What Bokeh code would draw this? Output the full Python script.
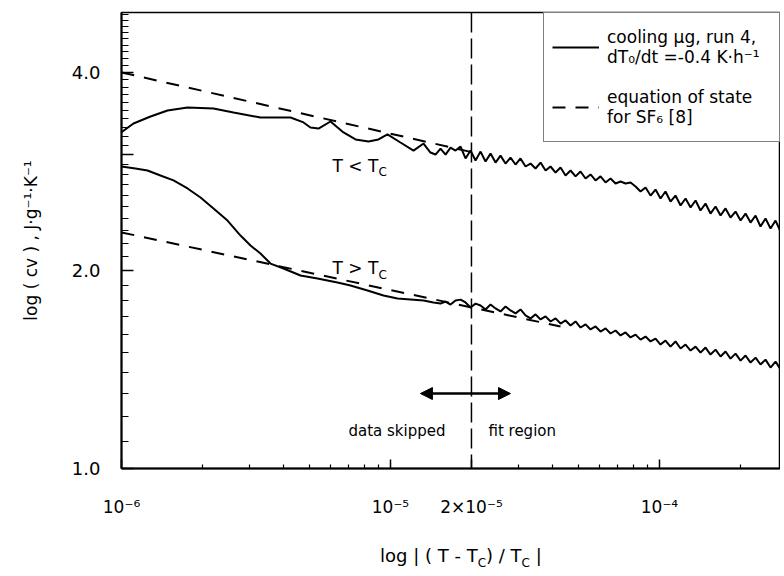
from bokeh.plotting import figure
from bokeh.models import (Range1d, FixedTicker, CustomJSTickFormatter, Span, Arrow,
                          NormalHead, Label, Legend, LegendItem, Div)
from bokeh.layouts import column
from bokeh.embed import file_html
from bokeh.resources import INLINE

FONT = "DejaVu Sans"

# ---------------- data ----------------
# reduced temperature |(T-Tc)/Tc| and specific heat cv (J g^-1 K^-1)
upper_smooth_x = [1.000e-6, 1.108e-6, 1.282e-6, 1.483e-6, 1.760e-6, 2.198e-6, 2.609e-6,
                  3.287e-6, 4.249e-6, 4.750e-6, 5.041e-6, 5.400e-6, 5.984e-6, 6.689e-6,
                  7.413e-6, 8.284e-6, 9.023e-6, 9.746e-6, 1.089e-5, 1.218e-5, 1.327e-5,
                  1.408e-5, 1.470e-5]
upper_smooth_y = [3.245, 3.346, 3.428, 3.501, 3.538, 3.526, 3.477,
                  3.416, 3.416, 3.358, 3.299, 3.287, 3.369, 3.242,
                  3.164, 3.141, 3.164, 3.220, 3.130, 3.043, 3.119,
                  3.022, 3.001]

lower_smooth_x = [1.000e-6, 1.127e-6, 1.249e-6, 1.396e-6, 1.561e-6, 1.760e-6, 1.967e-6,
                  2.198e-6, 2.478e-6, 2.770e-6, 3.017e-6, 3.287e-6, 3.580e-6, 4.002e-6,
                  4.629e-6, 5.354e-6, 6.353e-6, 7.101e-6, 8.214e-6, 9.419e-6, 1.062e-5,
                  1.187e-5, 1.327e-5, 1.445e-5]
lower_smooth_y = [2.878, 2.858, 2.838, 2.789, 2.741, 2.665, 2.582,
                  2.485, 2.382, 2.260, 2.183, 2.122, 2.049, 2.014,
                  1.965, 1.945, 1.918, 1.898, 1.865, 1.832, 1.813,
                  1.807, 1.800, 1.788]

noisy_x = [1.535e-5, 1.602e-5, 1.672e-5, 1.745e-5, 1.822e-5, 1.901e-5, 1.984e-5, 2.071e-5,
           2.162e-5, 2.256e-5, 2.355e-5, 2.458e-5, 2.565e-5, 2.677e-5, 2.794e-5, 2.917e-5,
           3.044e-5, 3.177e-5, 3.316e-5, 3.461e-5, 3.613e-5, 3.771e-5, 3.936e-5, 4.108e-5,
           4.287e-5, 4.475e-5, 4.671e-5, 4.875e-5, 5.088e-5, 5.311e-5, 5.543e-5, 5.785e-5,
           6.038e-5, 6.302e-5, 6.578e-5, 6.866e-5, 7.166e-5, 7.479e-5, 7.806e-5, 8.148e-5,
           8.504e-5, 8.876e-5, 9.264e-5, 9.669e-5, 1.009e-4, 1.053e-4, 1.099e-4, 1.147e-4,
           1.198e-4, 1.250e-4, 1.305e-4, 1.362e-4, 1.421e-4, 1.483e-4, 1.548e-4, 1.616e-4,
           1.687e-4, 1.760e-4, 1.837e-4, 1.918e-4, 2.002e-4, 2.089e-4, 2.181e-4, 2.276e-4,
           2.375e-4, 2.479e-4, 2.588e-4, 2.701e-4, 2.819e-4, 2.942e-4]
upper_noisy_y = [3.064, 3.001, 3.075, 3.043, 3.086, 2.960, 3.043, 2.939, 3.032, 2.929,
                 3.011, 2.918, 2.990, 2.908, 2.969, 2.898, 2.960, 2.878, 2.908, 2.858,
                 2.918, 2.838, 2.878, 2.818, 2.868, 2.789, 2.838, 2.780, 2.828, 2.760,
                 2.799, 2.741, 2.780, 2.722, 2.760, 2.712, 2.731, 2.712, 2.722, 2.684,
                 2.637, 2.674, 2.600, 2.655, 2.573, 2.637, 2.546, 2.600, 2.511, 2.573,
                 2.493, 2.555, 2.467, 2.528, 2.441, 2.502, 2.424, 2.485, 2.407, 2.458,
                 2.382, 2.441, 2.365, 2.424, 2.333, 2.399, 2.316, 2.382, 2.292, 2.349]
lower_noisy_y = [1.781, 1.794, 1.775, 1.800, 1.806, 1.788, 1.757, 1.781, 1.769, 1.745,
                 1.775, 1.751, 1.733, 1.763, 1.739, 1.721, 1.745, 1.709, 1.691, 1.715,
                 1.685, 1.703, 1.673, 1.691, 1.661, 1.679, 1.650, 1.673, 1.638, 1.656,
                 1.627, 1.644, 1.615, 1.633, 1.604, 1.621, 1.593, 1.610, 1.582, 1.598,
                 1.570, 1.587, 1.560, 1.576, 1.543, 1.565, 1.532, 1.560, 1.522, 1.543,
                 1.511, 1.532, 1.500, 1.527, 1.490, 1.516, 1.480, 1.506, 1.469, 1.495,
                 1.459, 1.485, 1.449, 1.474, 1.439, 1.464, 1.424, 1.454, 1.414, 1.444]

# equation of state (SF6) power laws
eos_below_x = [1.0e-6, 2.0e-5]      # T < Tc branch
eos_below_y = [4.000, 3.027]
eos_above_x = [1.0e-6, 4.285e-5]    # T > Tc branch
eos_above_y = [2.285, 1.644]

fit_boundary = 2.0e-5
arrow_x = [1.292e-5, 2.793e-5]
arrow_y = 1.30

x_tick_values = [1e-6, 1e-5, 2e-5, 1e-4]
x_tick_labels = ["10\u207b\u2076", "10\u207b\u2075", "2\u00d710\u207b\u2075", "10\u207b\u2074"]
x_minor = [2e-6, 3e-6, 4e-6, 5e-6, 6e-6, 7e-6, 8e-6, 9e-6,
           3e-5, 4e-5, 5e-5, 6e-5, 7e-5, 8e-5, 9e-5, 2e-4]
y_tick_values = [1.0, 2.0, 3.0, 4.0]
y_tick_labels = ["1.0", "2.0", "", "4.0"]
y_minor = [1.1, 1.2, 1.3, 1.4, 1.5, 1.6, 1.7, 1.8, 1.9,
           2.1, 2.2, 2.3, 2.4, 2.5, 2.6, 2.7, 2.8, 2.9,
           3.1, 3.2, 3.3, 3.4, 3.5, 3.6, 3.7, 3.8, 3.9,
           4.1, 4.2, 4.3, 4.4, 4.5, 4.6, 4.7, 4.8, 4.9]

upper_x = upper_smooth_x + noisy_x
upper_y = upper_smooth_y + upper_noisy_y
lower_x = lower_smooth_x + noisy_x
lower_y = lower_smooth_y + lower_noisy_y

# ---------------- figure ----------------
p = figure(width=780, height=534, x_axis_type="log", y_axis_type="log",
           x_range=Range1d(1e-6, 2.818e-4), y_range=Range1d(1.0, 4.934),
           output_backend="svg", toolbar_location=None,
           min_border_left=121, min_border_right=0, min_border_top=12, min_border_bottom=66)
p.xgrid.visible = False
p.ygrid.visible = False
p.outline_line_color = "black"
p.outline_line_width = 1.5
p.background_fill_color = "white"
p.border_fill_color = "white"

fmt_code = """
for (let i = 0; i < tvals.length; i++) {
  if (Math.abs(tick / tvals[i] - 1) < 1e-6) { return tlabs[i]; }
}
return "";
"""
p.xaxis.ticker = FixedTicker(ticks=x_tick_values, minor_ticks=x_minor)
p.xaxis.formatter = CustomJSTickFormatter(args=dict(tvals=x_tick_values, tlabs=x_tick_labels), code=fmt_code)
p.yaxis.ticker = FixedTicker(ticks=y_tick_values, minor_ticks=y_minor)
p.yaxis.formatter = CustomJSTickFormatter(args=dict(tvals=y_tick_values, tlabs=y_tick_labels), code=fmt_code)

for ax in (p.xaxis, p.yaxis):
    ax.axis_line_width = 2
    ax.axis_line_color = "black"
    ax.major_tick_out = 0
    ax.minor_tick_out = 0
    ax.major_tick_line_width = 1.5
    ax.minor_tick_line_width = 1.2
    ax.major_tick_line_color = "black"
    ax.minor_tick_line_color = "black"
    ax.major_label_text_font = FONT
    ax.major_label_text_color = "black"
    ax.axis_label_text_font = FONT
    ax.axis_label_text_font_style = "normal"
    ax.axis_label_text_color = "black"

p.xaxis.major_tick_in = 9
p.xaxis.minor_tick_in = 4
p.xaxis.major_label_standoff = 28
p.xaxis.major_label_text_font_size = "17px"

p.yaxis.major_tick_in = 12
p.yaxis.minor_tick_in = 7
p.yaxis.major_label_standoff = 21
p.yaxis.major_label_text_font_size = "18px"
p.yaxis.axis_label = "log ( cv ) , J\u00b7g\u207b\u00b9\u00b7K\u207b\u00b9"
p.yaxis.axis_label_text_font_size = "17px"
p.yaxis.axis_label_standoff = 28

# ---------------- marks ----------------
r_eos = p.line(eos_below_x, eos_below_y, line_color="black", line_width=2, line_dash="13 10")
p.line(eos_above_x, eos_above_y, line_color="black", line_width=2, line_dash="13 10")
r_data = p.line(upper_x, upper_y, line_color="black", line_width=2)
p.line(lower_x, lower_y, line_color="black", line_width=2)

p.add_layout(Span(location=fit_boundary, dimension="height", line_color="black",
                  line_width=1.5, line_dash="20 6"))
p.add_layout(Arrow(start=NormalHead(size=12, fill_color="black", line_color="black"),
                   end=NormalHead(size=12, fill_color="black", line_color="black"),
                   x_start=arrow_x[0], y_start=arrow_y, x_end=arrow_x[1], y_end=arrow_y,
                   line_width=2.5, line_color="black"))

def txt(x, y, s, size, align="left", baseline="middle"):
    p.add_layout(Label(x=x, y=y, text=s, text_font=FONT, text_font_size=size,
                       text_align=align, text_baseline=baseline, text_color="black"))

txt(1.601e-5, 1.142, "data skipped", "15px", "right")
txt(2.313e-5, 1.142, "fit region", "15px", "left")
txt(6.086e-6, 2.888, "T < T", "17px")
txt(9.024e-6, 2.828, "C", "12px")
txt(6.086e-6, 2.014, "T > T", "17px")
txt(9.024e-6, 1.972, "C", "12px")

legend = Legend(items=[
    LegendItem(label="cooling \u00b5g, run 4,\ndT\u2080/dt =-0.4 K\u00b7h\u207b\u00b9", renderers=[r_data]),
    LegendItem(label="equation of state\nfor SF\u2086 [8]", renderers=[r_eos]),
], location="top_right")
legend.margin = 0
legend.padding = 8
legend.spacing = 8
legend.glyph_width = 47
legend.glyph_height = 20
legend.label_standoff = 8
legend.label_width = 164
legend.label_height = 52
legend.label_text_font = FONT
legend.label_text_font_size = "17px"
legend.label_text_line_height = 1.6
legend.label_text_color = "black"
legend.border_line_color = "black"
legend.border_line_width = 1.5
legend.background_fill_color = "white"
legend.background_fill_alpha = 1.0
p.add_layout(legend)

# x-axis title (with subscripts) as real text below the plot
xtitle = Div(text="log | ( T - T<sub style='font-size:12px; line-height:0'>C</sub>) / "
                  "T<sub style='font-size:12px; line-height:0'>C</sub> |",
             width=780, height=36,
             styles={"font-family": FONT, "font-size": "18px", "color": "black",
                     "line-height": "22px", "padding-left": "375px", "padding-top": "6px",
                     "white-space": "nowrap"})

layout = column(p, xtitle, spacing=0)
open("out.html", "w").write(file_html(layout, INLINE))
